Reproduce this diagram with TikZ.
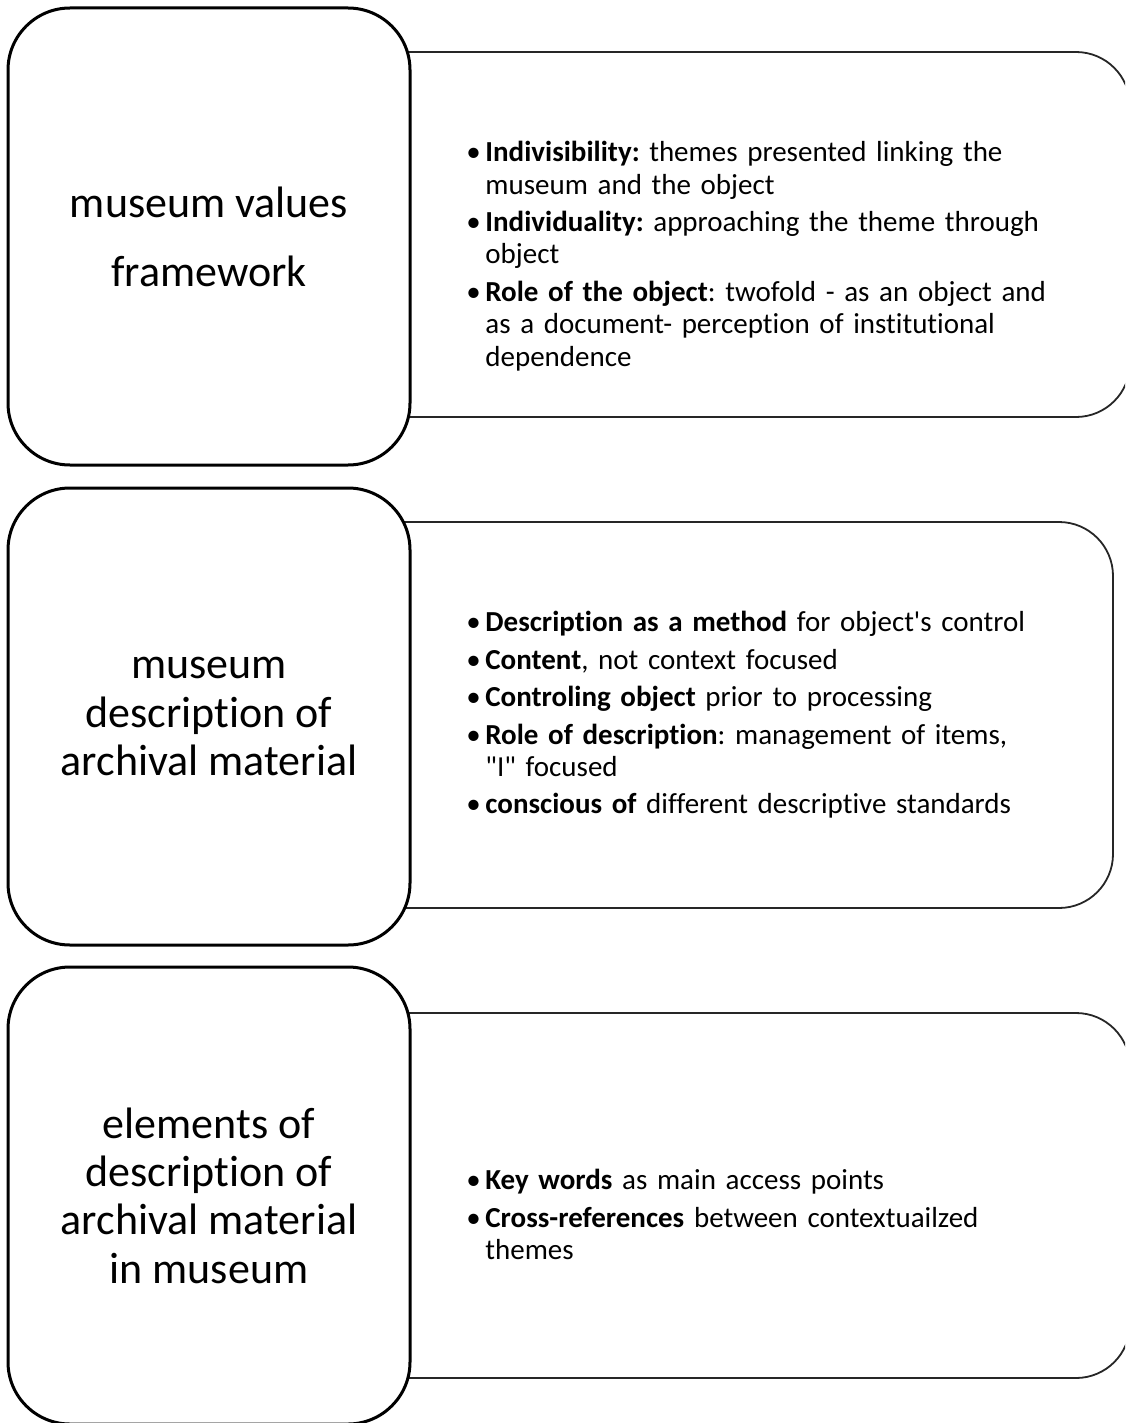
\documentclass[tikz,border=0pt]{standalone}
\usepackage{fontspec}
\setmainfont{Carlito}[Ligatures=NoCommon]
\newcommand{\bul}[1]{\par\hangindent=9.5pt\hangafter=1\noindent\makebox[9.5pt][l]{\textbullet}#1\par}
\begin{document}
\begin{tikzpicture}[x=0.5pt,y=-0.5pt,
    topic/.style={draw,line width=1.5pt,fill=white,rounded corners=31pt,minimum width=201pt,minimum height=228.5pt,align=center,inner sep=0pt,font=\fontsize{22}{24.2}\selectfont},
    detail/.style={draw=black!85,line width=0.9pt,fill=white,rounded corners=27pt,inner sep=0pt},
    points/.style={anchor=north west,inner sep=0pt,text width=330pt,align=left,font=\fontsize{14.5}{16.2}\selectfont\frenchspacing\setlength{\parskip}{2.5pt}}]
    \useasboundingbox (0,0) rectangle (1125,1423);
    \clip (0,0) rectangle (1125,1423);
    % right hand boxes first, the topics cover their left ends
    \node[detail,minimum width=415pt,minimum height=182.5pt] (valbox) at (715,234.5) {};
    \node[detail,minimum width=406.5pt,minimum height=193pt] (descbox) at (706.5,715) {};
    \node[detail,minimum width=415pt,minimum height=182.5pt] (elembox) at (715,1195.5) {};
    % topics
    \node[topic,font=\fontsize{22}{34.5}\selectfont] (values) at (209,236.5) {museum values\\framework};
    \node[topic] (descr) at (209,716.5) {museum\\description of\\archival material};
    \node[topic] (elems) at (209,1195.5) {elements of\\description of\\archival material\\in museum};
    % bullet points
    \node[points] (valpts) at (466,124) {%
        \bul{\textbf{Indivisibility:} themes presented linking the\newline museum and the object}
        \bul{\textbf{Individuality:} approaching the theme through\newline object}
        \bul{\textbf{Role of the object}: twofold - as an object and\newline as a document- perception of institutional\newline dependence}};
    \node[points] (descpts) at (466,594) {%
        \bul{\textbf{Description as a method} for object\textquotesingle s control}
        \bul{\textbf{Content}, not context focused}
        \bul{\textbf{Controling object} prior to processing}
        \bul{\textbf{Role of description}: management of items,\newline \textquotedbl I\textquotedbl{} focused}
        \bul{\textbf{conscious of} different descriptive standards}};
    \node[points] (elempts) at (466,1152) {%
        \bul{\textbf{Key words} as main access points}
        \bul{\textbf{Cross-references} between contextuailzed\newline themes}};
\end{tikzpicture}
\end{document}
